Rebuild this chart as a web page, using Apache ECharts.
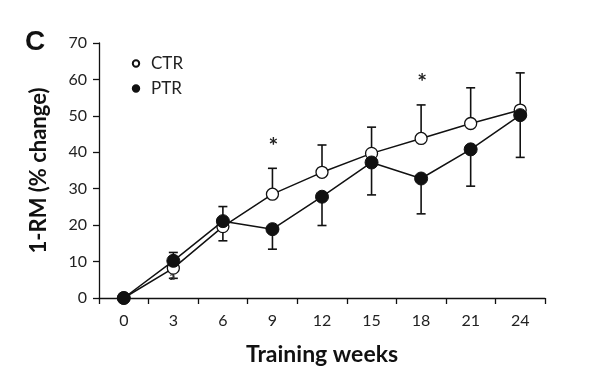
<!DOCTYPE html>
<html>
<head>
<meta charset="utf-8">
<script src="https://cdn.jsdelivr.net/npm/echarts@6/dist/echarts.min.js"></script>
<style>html,body{margin:0;padding:0;background:#fff}#c{width:589px;height:385px}</style>
</head>
<body>
<div id="c"></div>
<script>
const weeks = ['0', '3', '6', '9', '12', '15', '18', '21', '24'];
const ctr = [0, 8.2, 19.6, 28.5, 34.5, 39.7, 43.8, 47.9, 51.6];
const ptr = [0, 10.2, 21.1, 18.9, 27.8, 37.2, 32.8, 40.8, 50.2];
const ctrSD = [0, 2.8, 3.9, 7.1, 7.5, 7.2, 9.2, 9.8, 10.2];
const ptrSD = [0, 2.3, 4.0, 5.5, 7.9, 8.9, 9.7, 10.1, 11.6];
// which side of the mean the error bar is drawn: 1 = up, -1 = down, 0 = none
const ctrSide = [0, -1, -1, 1, 1, 1, 1, 1, 1];
const ptrSide = [0, 1, 1, -1, -1, -1, -1, -1, -1];
const signif = ['', '', '', '*', '', '', '*', '', ''];
const ctrNote = ['', 'a', '', '', '', '', '', '', ''];
const yTicks = [0, 10, 20, 30, 40, 50, 60, 70];

const FONT = 'Lato';
const chart = echarts.init(document.getElementById('c'));

function errData(mean, sd, side) {
  return mean.map((m, i) => [i, m, m + side[i] * sd[i], side[i]]);
}

function errRender(params, api) {
  const i = api.value(0);
  const side = api.value(3);
  const children = [];
  const pm = api.coord([i, api.value(1)]);
  const pe = api.coord([i, api.value(2)]);
  if (side !== 0) {
    const st = { stroke: '#111', lineWidth: 1.6 };
    children.push({ type: 'line', shape: { x1: pm[0], y1: pm[1], x2: pe[0], y2: pe[1] }, style: st });
    children.push({ type: 'line', shape: { x1: pe[0] - 4.5, y1: pe[1], x2: pe[0] + 4.5, y2: pe[1] }, style: st });
  }
  return { type: 'group', children };
}

function noteRender(params, api) {
  const i = api.value(0);
  const children = [];
  const pm = api.coord([i, api.value(1)]);
  const pe = api.coord([i, api.value(2)]);
  const s = signif[i];
  if (s) {
    children.push({ type: 'text', x: pe[0] + 1, y: pe[1] - 22, style: { text: s, fill: '#222', font: 'bold 23px ' + FONT, align: 'center', verticalAlign: 'middle' } });
  }
  const n = ctrNote[i];
  if (n) {
    children.push({ type: 'text', x: pm[0] - 1, y: pm[1] + 8, style: { text: n, fill: '#333', font: 'bold 11px ' + FONT, align: 'center', verticalAlign: 'middle' } });
  }
  return { type: 'group', children };
}

chart.setOption({
  animation: false,
  backgroundColor: '#fff',
  textStyle: { fontFamily: FONT },
  title: {
    text: 'C', left: 20, top: 23,
    textStyle: { fontSize: 28, fontWeight: 'bold', color: '#111', fontFamily: 'Liberation Sans' }
  },
  legend: {
    orient: 'vertical', left: 126, top: 50, itemGap: 8, itemWidth: 8, itemHeight: 8,
    data: ['CTR', 'PTR'],
    textStyle: { fontSize: 17, color: '#222', fontFamily: FONT, padding: [0, 0, 0, 6] }
  },
  grid: { left: 99, right: 44, top: 43, bottom: 87 },
  xAxis: {
    type: 'category', data: weeks, boundaryGap: true,
    name: 'Training weeks', nameLocation: 'middle', nameGap: 45,
    nameTextStyle: { fontSize: 23, fontWeight: 'bold', color: '#111', fontFamily: FONT },
    axisLine: { lineStyle: { color: '#111', width: 1.3 } },
    axisTick: { show: true, length: 6, alignWithLabel: false, lineStyle: { color: '#111', width: 1.3 } },
    axisLabel: { fontSize: 16, color: '#222', margin: 15, fontFamily: FONT },
    splitLine: { show: false }
  },
  yAxis: {
    type: 'value', min: 0, max: 70, interval: 10,
    name: '1-RM (% change)', nameLocation: 'middle', nameGap: 49, nameRotate: 90,
    nameTextStyle: { fontSize: 22, fontWeight: 'bold', color: '#111', fontFamily: FONT },
    axisLine: { show: true, lineStyle: { color: '#111', width: 1.3 } },
    axisTick: { show: true, length: 6, lineStyle: { color: '#111', width: 1.3 } },
    axisLabel: { fontSize: 16, color: '#222', margin: 12, fontFamily: FONT,
      formatter: v => yTicks.includes(v) ? String(v) : '' },
    splitLine: { show: false }
  },
  series: [
    {
      type: 'custom', name: 'ctrErr', renderItem: errRender,
      data: errData(ctr, ctrSD, ctrSide), z: 1, silent: true,
      encode: { x: 0, y: [1, 2] }
    },
    {
      type: 'custom', name: 'ptrErr', renderItem: errRender,
      data: errData(ptr, ptrSD, ptrSide), z: 1, silent: true,
      encode: { x: 0, y: [1, 2] }
    },
    {
      name: 'CTR', type: 'line', data: ctr, z: 3,
      symbol: 'circle', symbolSize: 12,
      lineStyle: { color: '#111', width: 1.5 },
      itemStyle: { color: '#fff', borderColor: '#111', borderWidth: 1.3 }
    },
    {
      name: 'PTR', type: 'line', data: ptr, z: 4,
      symbol: 'circle', symbolSize: 13,
      lineStyle: { color: '#111', width: 1.5 },
      itemStyle: { color: '#111', borderColor: '#111', borderWidth: 1 }
    },
    {
      type: 'custom', name: 'notes', renderItem: noteRender,
      data: errData(ctr, ctrSD, ctrSide), z: 5, silent: true,
      encode: { x: 0, y: [1, 2] }
    }
  ]
});
</script>
</body>
</html>
